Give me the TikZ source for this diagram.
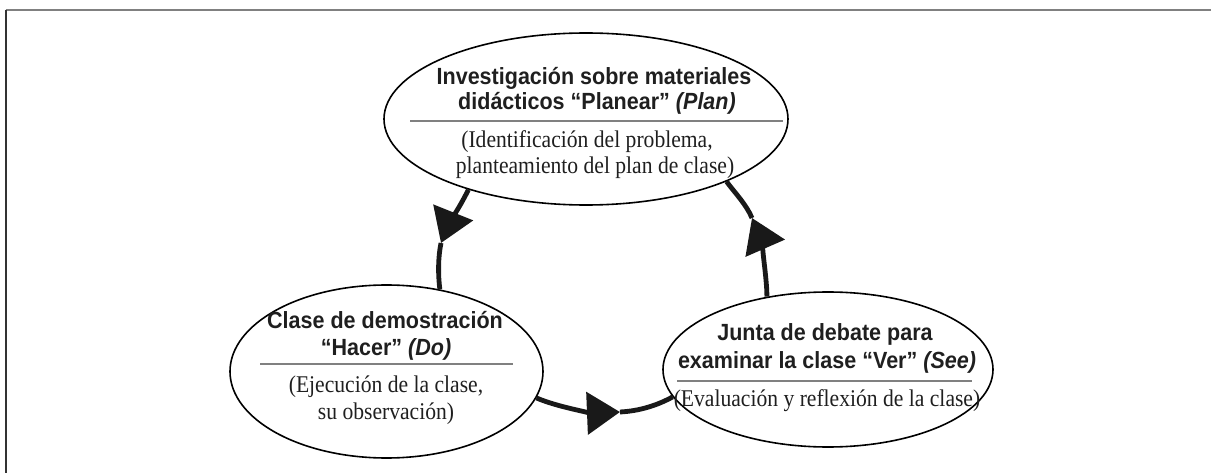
\documentclass[tikz,border=0pt]{standalone}
\usepackage{fontspec}
\setmainfont{Liberation Serif}[FakeStretch=0.9]
\setsansfont{Liberation Sans}[FakeStretch=0.92]
\usetikzlibrary{arrows.meta,shapes.geometric}
\tikzset{
  cyc/.style={draw=black,line width=1.6pt,ellipse,inner sep=0pt},
  ttl/.style={anchor=base,inner sep=0pt,font=\sffamily\bfseries\fontsize{23.4}{25}\selectfont,text=black!88},
  sub/.style={anchor=base,inner sep=0pt,font=\rmfamily\fontsize{24}{27}\selectfont,text=black!88},
  divider/.style={draw=black!50,line width=1.3pt},
  flow/.style={draw=black!90,line width=4.8pt},
  flowtip/.style={flow,-{Triangle[length=33pt,width=42pt]}},
  frame/.style={line width=1.6pt}
}
\begin{document}
\begin{tikzpicture}[x=1pt,y=1pt]
\useasboundingbox (0,0) rectangle (1211,-473);
% frame
\draw[frame,draw=black!50] (5.5,-10) -- (1211,-10);
\draw[frame,draw=black!80] (6,-10) -- (6,-473);

% ellipses
\node[cyc,minimum width=404pt,minimum height=172pt] (T) at (586,-119) {};
\node[cyc,minimum width=313pt,minimum height=173pt] (L) at (386.5,-371.5) {};
\node[cyc,minimum width=330pt,minimum height=155pt] (R) at (828,-369.5) {};

% top texts
\node[ttl] (T1) at (594,-85) {Investigación sobre materiales};
\node[ttl] (T2) at (597,-110) {didácticos “Planear” \textit{(Plan)}};
\draw[divider] (410,-121) -- (783,-121);
\node[sub] (T3) at (587,-148) {(Identificación del problema,};
\node[sub] (T4) at (595,-174) {planteamiento del plan de clase)};

% left texts
\node[ttl] (L1) at (385,-328) {Clase de demostración};
\node[ttl] (L2) at (386,-355) {“Hacer” \textit{(Do)}};
\draw[divider] (260,-364) -- (513,-364);
\node[sub] (L3) at (386,-392) {(Ejecución de la clase,};
\node[sub] (L4) at (386,-419) {su observación)};

% right texts
\node[ttl] (R1) at (825,-340) {Junta de debate para};
\node[ttl] (R2) at (827,-368) {examinar la clase “Ver” \textit{(See)}};
\draw[divider] (677,-381) -- (972,-381);
\node[sub] (R3) at (827,-406) {(Evaluación y reflexión de la clase)};

% arrow tips
\coordinate (a1) at (441,-243);
\coordinate (a2) at (620,-412);
\coordinate (a3) at (752,-218);

% arrow 1: top -> left
\draw[flowtip] (T.-149) .. controls (462,-203) and (447,-228) .. (a1);
\draw[flow] (a1) .. controls (438,-258) and (438,-274) .. (L.57);
% arrow 2: left -> right
\draw[flowtip] (L.-10) .. controls (560,-408) and (595,-413) .. (a2);
\draw[flow] (a2) .. controls (640,-411) and (658,-405) .. (R.190);
% arrow 3: right -> top
\draw[flowtip] (R.130) .. controls (767,-275) and (759,-234) .. (a3);
\draw[flow] (a3) .. controls (746,-204) and (735,-193) .. (T.-24);
\end{tikzpicture}
\end{document}
